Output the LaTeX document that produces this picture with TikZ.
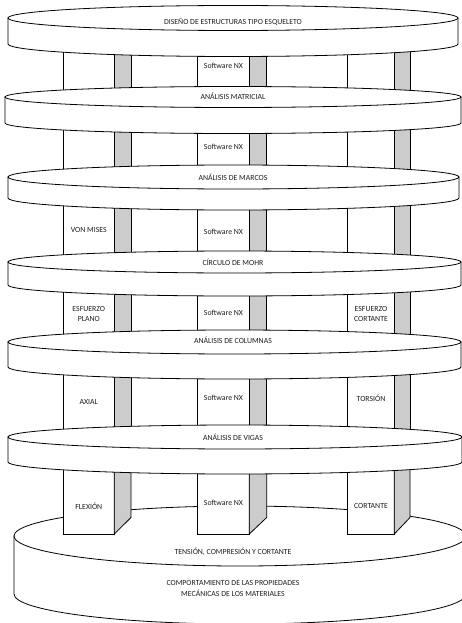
\documentclass[tikz,border=0pt]{standalone}
\usepackage{fontspec}
\setmainfont{Carlito}
\definecolor{sidegray}{RGB}{204,204,204}
\definecolor{txt}{RGB}{30,30,30}
\tikzset{
  diskline/.style={draw=black,fill=white,line width=0.8pt},
  frontface/.style={draw=black,fill=white,line width=0.8pt},
  sideface/.style={draw=black,fill=sidegray,line width=0.8pt},
  lbl/.style={text=txt,font=\fontsize{7.8}{10.8}\selectfont,inner sep=0pt,align=center}
}
\newcommand\mydisk[5]{%
  \filldraw[diskline] ({#1-#3},#2) -- ({#1-#3},{#2+#5}) arc[start angle=180,end angle=0,x radius=#3,y radius=#4] -- ({#1+#3},#2) -- cycle;
  \filldraw[diskline] (#1,#2) ellipse[x radius=#3,y radius=#4];
}
% pillar: xl xm xr ytop ybot
\newcommand\mypillar[5]{%
  \filldraw[frontface] (#1,#4) rectangle (#2,#5);
  \filldraw[sideface] (#2,#4) rectangle (#3,#5);
}
\newcommand\mylevel[2]{%
  \mypillar{63.3}{114.3}{131}{#1}{#2}
  \mypillar{197.7}{249.3}{266.7}{#1}{#2}
  \mypillar{347.7}{394.3}{410}{#1}{#2}
}
\newcommand\mybotpillar[3]{%
  \filldraw[frontface] (#1,437) rectangle (#2,534);
  \filldraw[sideface] (#2,437) -- (#3,437) -- (#3,517.5) -- (#2,534) -- cycle;
}
\begin{document}
\begin{tikzpicture}[x=1pt,y=-1pt]
\useasboundingbox (0,0) rectangle (462,623);
\clip (0,0) rectangle (462,623);
% pillars of the upper levels
\mylevel{18}{97}
\mylevel{97}{177}
\mylevel{177}{262}
\mylevel{262}{342}
\mylevel{342}{437}
% base disk
\mydisk{240}{536}{226}{30}{58}
% bottom pillars standing on the base
\mybotpillar{63.3}{114.3}{131}
\mybotpillar{197.7}{249.3}{266.7}
\mybotpillar{347.7}{394.3}{410}
% disks
\mydisk{233}{18}{225}{12.5}{26}
\mydisk{233}{97}{228}{10.5}{26}
\mydisk{233.5}{177}{225.5}{12}{21}
\mydisk{234.5}{262}{226.5}{11}{23}
\mydisk{234.5}{342}{226.5}{12}{25}
\mydisk{235}{437}{227}{12}{25}
% disk labels
\node[lbl] (t1) at (233,21.5) {DISEÑO DE ESTRUCTURAS TIPO ESQUELETO};
\node[lbl] (t2) at (233,96.7) {ANÁLISIS MATRICIAL};
\node[lbl] (t3) at (233,177.3) {ANÁLISIS DE MARCOS};
\node[lbl] (t4) at (233,262) {CÍRCULO DE MOHR};
\node[lbl] (t5) at (233,340) {ANÁLISIS DE COLUMNAS};
\node[lbl] (t6) at (233,437) {ANÁLISIS DE VIGAS};
\node[lbl] (t7) at (233,552) {TENSIÓN, COMPRESIÓN Y CORTANTE};
\node[lbl] (t8) at (233,588.5) {COMPORTAMIENTO DE LAS PROPIEDADES\\MECÁNICAS DE LOS MATERIALES};
% pillar labels
\node[lbl] (s1) at (223.5,66) {Software NX};
\node[lbl] (s2) at (223.5,147) {Software NX};
\node[lbl] (s3) at (223.5,231.7) {Software NX};
\node[lbl] (s4) at (223.5,312.7) {Software NX};
\node[lbl] (s5) at (223.5,398) {Software NX};
\node[lbl] (s6) at (223.5,503) {Software NX};
\node[lbl] (vm) at (88.8,230) {VON MISES};
\node[lbl] (ep) at (88.8,314) {ESFUERZO\\PLANO};
\node[lbl] (ec) at (371,314) {ESFUERZO\\CORTANTE};
\node[lbl] (ax) at (88.8,401.7) {AXIAL};
\node[lbl] (to) at (371,398) {TORSIÓN};
\node[lbl] (fl) at (88.8,506) {FLEXIÓN};
\node[lbl] (co) at (371,505.5) {CORTANTE};
\end{tikzpicture}
\end{document}
